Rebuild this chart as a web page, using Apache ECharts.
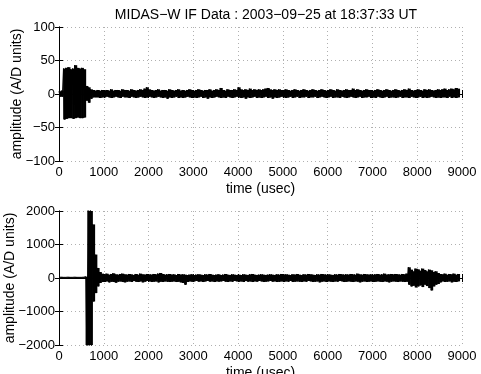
<!DOCTYPE html>
<html><head><meta charset="utf-8">
<script src="https://cdn.jsdelivr.net/npm/echarts@6/dist/echarts.min.js"></script>
<style>html,body{margin:0;padding:0;background:#fff}#c{width:481px;height:374px}</style>
</head><body><div id="c"></div>
<script>
// Sample bins: 50 usec step; upper envelope sampled at bin start, lower at bin start + 25 usec
var binStep = 50;
var hi1 = [
 4,5,38,39,40,37,38,43,39,38,
 39,37,12,10,7,6,5,6,5,6,
 5,6,5,7,5,6,6,5,7,6,
 6,5,7,6,5,6,7,6,8,10,
 7,6,5,6,7,5,6,6,5,7,
 6,5,6,7,5,6,5,6,7,6,
 5,6,7,6,5,6,6,7,5,6,
 7,6,9,6,5,7,6,6,7,6,
 10,7,6,7,6,8,6,7,6,7,
 6,7,8,9,7,6,7,6,7,6,
 6,7,6,5,6,7,6,5,6,7,
 6,5,6,7,6,5,6,7,6,5,
 6,7,6,5,7,6,5,6,7,6,
 6,8,6,7,6,5,6,7,6,6,
 5,6,7,6,5,6,7,6,5,6,
 7,6,5,6,7,6,8,6,5,6,
 7,6,5,7,6,7,6,5,6,7,
 6,7,8,6,7,8,7,9,8
];
var lo1 = [
 -4,-4,-38,-37,-36,-36,-37,-36,-35,-36,
 -36,-35,-10,-13,-7,-5,-5,-5,-6,-5,
 -5,-4,-5,-6,-5,-4,-5,-6,-4,-5,
 -5,-6,-4,-5,-6,-5,-4,-5,-6,-5,
 -4,-5,-6,-5,-4,-5,-6,-5,-7,-5,
 -6,-5,-4,-6,-5,-6,-5,-4,-5,-6,
 -5,-6,-5,-4,-6,-5,-7,-5,-6,-5,
 -4,-5,-6,-5,-6,-4,-5,-6,-5,-4,
 -5,-6,-5,-7,-5,-6,-5,-4,-6,-5,
 -6,-5,-4,-6,-5,-7,-5,-6,-5,-4,
 -5,-6,-5,-4,-6,-5,-4,-6,-5,-5,
 -4,-6,-5,-5,-4,-6,-5,-4,-5,-6,
 -5,-4,-6,-5,-5,-6,-4,-5,-6,-5,
 -4,-5,-6,-5,-4,-6,-5,-5,-4,-6,
 -5,-6,-4,-5,-6,-5,-4,-6,-5,-5,
 -6,-5,-4,-6,-5,-5,-6,-4,-5,-6,
 -5,-4,-6,-5,-6,-5,-4,-5,-6,-5,
 -6,-5,-5,-6,-4,-6,-5,-6,-5
];
var hi2 = [
 20,25,20,20,25,20,20,25,20,20,
 20,25,40,2600,2600,1600,700,300,180,130,
 110,130,100,120,140,110,100,120,130,110,
 100,120,110,90,120,100,130,110,100,120,
 110,100,120,110,130,150,120,100,110,120,
 100,110,90,120,100,110,100,90,100,110,
 90,100,110,100,90,110,100,120,100,90,
 100,110,90,100,120,100,90,110,100,90,
 100,90,110,100,90,110,120,100,90,100,
 110,100,90,100,110,100,90,110,100,120,
 100,110,100,90,110,100,120,100,90,110,
 100,120,110,100,90,110,100,120,110,100,
 110,100,90,110,100,120,110,100,110,100,
 120,110,100,130,110,100,120,110,100,110,
 100,110,120,100,110,130,100,110,120,110,
 120,110,100,120,110,130,320,250,200,280,
 260,220,280,240,200,250,230,180,200,150,
 120,110,130,100,120,110,130,100,120
];
var lo2 = [
 -20,-20,-25,-20,-20,-25,-20,-20,-25,-20,
 -20,-20,-2600,-2600,-2600,-700,-450,-250,-150,-120,
 -120,-100,-130,-110,-120,-140,-110,-100,-120,-130,
 -110,-100,-120,-90,-110,-120,-100,-130,-110,-90,
 -100,-120,-110,-100,-130,-110,-120,-100,-110,-120,
 -110,-100,-120,-110,-130,-150,-200,-120,-100,-110,
 -100,-90,-110,-100,-120,-100,-90,-110,-100,-120,
 -100,-110,-100,-90,-110,-120,-100,-110,-90,-100,
 -110,-100,-120,-90,-110,-100,-120,-100,-110,-90,
 -100,-120,-110,-100,-90,-110,-100,-120,-110,-100,
 -120,-100,-110,-90,-120,-110,-100,-110,-120,-100,
 -110,-90,-100,-120,-110,-100,-130,-110,-100,-120,
 -100,-110,-120,-100,-110,-90,-100,-120,-110,-100,
 -110,-120,-100,-110,-130,-110,-100,-120,-110,-100,
 -120,-110,-100,-110,-120,-100,-110,-130,-110,-100,
 -110,-120,-100,-110,-120,-110,-200,-250,-230,-280,
 -250,-220,-270,-200,-240,-300,-370,-250,-200,-180,
 -130,-100,-120,-110,-100,-130,-110,-120,-100
];

function zigzag(hi, lo){
  var d = [];
  for (var i = 0; i < hi.length; i++){
    d.push([i*binStep, hi[i]]);
    d.push([i*binStep + binStep/2, lo[i]]);
  }
  return d;
}
function bins(hi, lo){
  var d = [];
  for (var i = 0; i < hi.length; i++) d.push([i*binStep, lo[i], hi[i]]);
  return d;
}

var FONT = 'Liberation Sans';
var grids = [
  {left:59, top:27, width:403, height:134, containLabel:false, outerBoundsMode:'none'},
  {left:59, top:211, width:403, height:134, containLabel:false, outerBoundsMode:'none'}
];
function fmt(v){ return String(v).replace('-', '\u2212'); }
function xMain(g){
  return {type:'value', gridIndex:g, min:0, max:9000, interval:1000, position:'bottom',
    name:'time (usec)', nameLocation:'middle', nameGap:21, nameMoveOverlap:false,
    nameTextStyle:{color:'#000', fontFamily:FONT, fontSize:14},
    axisLine:{lineStyle:{color:'#000', width:1}},
    axisTick:{inside:true, length:4, lineStyle:{color:'#000'}},
    axisLabel:{color:'#000', fontFamily:FONT, fontSize:13, margin:5, formatter:fmt, hideOverlap:false},
    splitLine:{show:true, lineStyle:{color:'#b0b0b0', type:[1,3], width:1}}};
}
function xTop(g){
  return {type:'value', gridIndex:g, min:0, max:9000, interval:1000, position:'top',
    axisLine:{lineStyle:{color:'#000', width:1}},
    axisTick:{inside:true, length:4, lineStyle:{color:'#000'}},
    axisLabel:{show:false}, splitLine:{show:false}};
}
function yMain(g, mn, mx, iv, gap){
  return {type:'value', gridIndex:g, min:mn, max:mx, interval:iv, position:'left',
    name:'amplitude (A/D units)', nameLocation:'middle', nameGap:gap, nameMoveOverlap:false,
    nameTextStyle:{color:'#000', fontFamily:FONT, fontSize:14},
    axisLine:{show:true, lineStyle:{color:'#000', width:1}},
    axisTick:{show:true, inside:true, length:4, lineStyle:{color:'#000'}},
    axisLabel:{color:'#000', fontFamily:FONT, fontSize:13, margin:4, formatter:fmt},
    splitLine:{show:true, lineStyle:{color:'#b0b0b0', type:[1,3], width:1}}};
}
function yRight(g, mn, mx, iv){
  return {type:'value', gridIndex:g, min:mn, max:mx, interval:iv, position:'right',
    axisLine:{show:true, lineStyle:{color:'#000', width:1}},
    axisTick:{show:true, inside:true, length:4, lineStyle:{color:'#000'}},
    axisLabel:{show:false}, splitLine:{show:false}};
}
function renderBin(params, api){
  var t = api.value(0), lo = api.value(1), hi = api.value(2);
  var p0 = api.coord([t, hi]);
  var p1 = api.coord([t + binStep, lo]);
  var cs = params.coordSys;
  var shape = echarts.graphic.clipRectByRect(
    {x:p0[0] - 0.3, y:p0[1], width:p1[0]-p0[0] + 0.6, height:p1[1]-p0[1]},
    {x:cs.x, y:cs.y, width:cs.width, height:cs.height});
  return shape && {type:'rect', shape:shape, style:{fill:'#000'}};
}
function panelSeries(xi, yi, hi, lo){
  return [
    {type:'custom', xAxisIndex:xi, yAxisIndex:yi, data:bins(hi, lo), renderItem:renderBin,
      encode:{x:0, y:[1,2]}, clip:true, z:1, silent:true},
    {type:'line', xAxisIndex:xi, yAxisIndex:yi, data:zigzag(hi, lo), showSymbol:false, symbol:'none',
      lineStyle:{color:'#000', width:1}, clip:true, z:2, silent:true}
  ];
}

var chart = echarts.init(document.getElementById('c'), null, {renderer:'canvas'});
chart.setOption({
  animation:false,
  backgroundColor:'#fff',
  title:{text:'MIDAS\u2212W IF Data : 2003\u221209\u221225 at 18:37:33 UT', left:261, textAlign:'center', top:3,
    textStyle:{color:'#000', fontFamily:FONT, fontSize:14, fontWeight:'normal'}},
  grid:grids,
  xAxis:[xMain(0), xTop(0), xMain(1), xTop(1)],
  yAxis:[yMain(0,-100,100,50,35), yRight(0,-100,100,50), yMain(1,-2000,2000,1000,42), yRight(1,-2000,2000,1000)],
  series:panelSeries(0,0,hi1,lo1).concat(panelSeries(2,2,hi2,lo2))
});
</script></body></html>
